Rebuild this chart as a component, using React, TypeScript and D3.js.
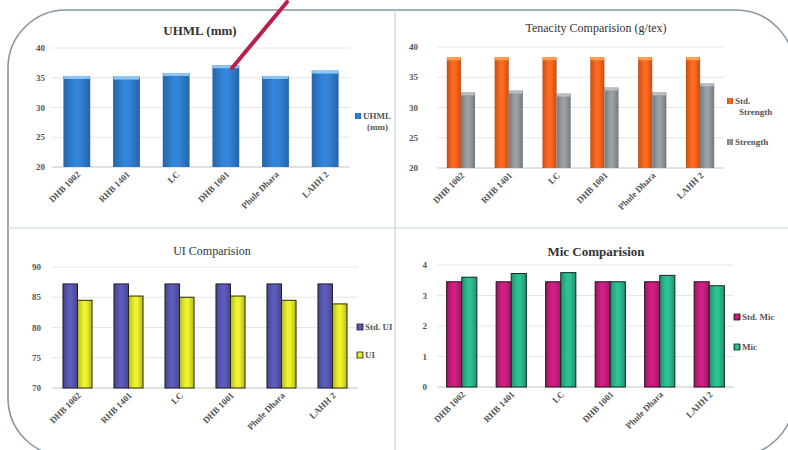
import React from "react";
import * as d3 from "d3";

const categories = ["DHB 1002", "RHB 1401", "LC", "DHB 1001", "Phule Dhara", "LAHH 2"];

const uhmlValues = [35.3, 35.2, 35.8, 37.1, 35.3, 36.2];
const uhmlTicks = [20, 25, 30, 35, 40];

const stdStrengthValues = [38.3, 38.3, 38.3, 38.3, 38.3, 38.3];
const strengthValues = [32.5, 32.8, 32.3, 33.3, 32.5, 34.0];
const tenacityTicks = [20, 25, 30, 35, 40];

const stdUIValues = [87.2, 87.2, 87.2, 87.2, 87.2, 87.2];
const uiValues = [84.5, 85.2, 85.0, 85.2, 84.5, 83.9];
const uiTicks = [70, 75, 80, 85, 90];

const stdMicValues = [3.45, 3.45, 3.45, 3.45, 3.45, 3.45];
const micValues = [3.6, 3.72, 3.75, 3.45, 3.66, 3.32];
const micTicks = [0, 1, 2, 3, 4];

const FONT = "Liberation Serif, Times New Roman, serif";

type Series = { name: string[]; values: number[]; fill: string; cap?: string; stroke?: string };

type PanelProps = {
  id: string;
  title: string;
  titleBold: boolean;
  titleX: number;
  titleY: number;
  titleSize: number;
  x0: number;
  x1: number;
  yTop: number;
  yBottom: number;
  ticks: number[];
  tickX: number;
  padInner: number;
  series: Series[];
  legendX: number;
  legendYs: number[];
};

function Panel(p: PanelProps) {
  const y = d3.scaleLinear().domain([p.ticks[0], p.ticks[p.ticks.length - 1]]).range([p.yBottom, p.yTop]);
  const x = d3
    .scaleBand<string>()
    .domain(categories)
    .range([p.x0, p.x1])
    .paddingInner(p.padInner)
    .paddingOuter(p.padInner / 2);
  const inner = d3
    .scaleBand<number>()
    .domain(p.series.map((_, i) => i))
    .range([0, x.bandwidth()]);
  return (
    <g>
      <text x={p.titleX} y={p.titleY} textAnchor="middle" fontFamily={FONT} fontSize={p.titleSize}
        fontWeight={p.titleBold ? "bold" : "normal"} fill="#333">{p.title}</text>
      {p.ticks.map((t) => (
        <g key={t}>
          <line x1={p.x0} x2={p.x1} y1={y(t)} y2={y(t)} stroke={t === p.ticks[0] ? "#c4c4c4" : "#e6e6e6"} strokeWidth={1} />
          <text x={p.tickX} y={y(t) + 3} textAnchor="end" fontFamily={FONT} fontSize={9} fontWeight="bold" fill="#555">{t}</text>
        </g>
      ))}
      {p.series.map((s, si) =>
        s.values.map((v, ci) => {
          const bx = (x(categories[ci]) as number) + (inner(si) as number);
          const bw = inner.bandwidth();
          const top = y(v);
          const h = y(p.ticks[0]) - top;
          return (
            <g key={`${si}-${ci}`}>
              <rect x={bx} y={top} width={bw} height={h} fill={`url(#${p.id}-g${si})`}
                stroke={s.stroke || "none"} strokeWidth={s.stroke ? 1 : 0} />
              {s.cap && <rect x={bx + 0.5} y={top} width={bw - 1} height={3} fill={s.cap} />}
            </g>
          );
        })
      )}
      {categories.map((c) => {
        const cx = (x(c) as number) + x.bandwidth() / 2 + 4;
        return (
          <text key={c} transform={`translate(${cx},${p.yBottom + 8}) rotate(-45)`} textAnchor="end"
            fontFamily={FONT} fontSize={9} fontWeight="bold" fill="#555">{c}</text>
        );
      })}
      {p.series.map((s, si) => (
        <g key={`leg-${si}`}>
          <rect x={p.legendX} y={p.legendYs[si] - 6} width={6} height={6} fill={`url(#${p.id}-g${si})`}
            stroke={s.stroke || "none"} strokeWidth={s.stroke ? 0.8 : 0} />
          {s.name.map((line, li) => (
            <text key={li} x={p.legendX + 8 + (li > 0 ? 4 : 0)} y={p.legendYs[si] + li * 11} fontFamily={FONT}
              fontSize={9} fontWeight="bold" fill="#555">{line}</text>
          ))}
        </g>
      ))}
      <defs>
        {p.series.map((s, si) => (
          <linearGradient key={si} id={`${p.id}-g${si}`} x1="0" x2="1" y1="0" y2="0">
            <stop offset="0" stopColor={d3.color(s.fill)!.darker(0.6).formatHex()} />
            <stop offset="0.4" stopColor={d3.color(s.fill)!.brighter(0.2).formatHex()} />
            <stop offset="0.6" stopColor={d3.color(s.fill)!.brighter(0.2).formatHex()} />
            <stop offset="1" stopColor={d3.color(s.fill)!.darker(0.6).formatHex()} />
          </linearGradient>
        ))}
      </defs>
    </g>
  );
}

export default function App() {
  return (
    <svg width={788} height={450} style={{ position: "absolute", left: 0, top: 0, background: "#fff" }}>
      <rect x={0} y={0} width={788} height={450} fill="#fff" />
      <rect x={8} y={10} width={786} height={446} rx={58} ry={58} fill="none" stroke="#8596a4" strokeWidth={1.6} />
      <line x1={395} x2={395} y1={10} y2={450} stroke="#c9d3db" strokeWidth={1.2} />
      <line x1={8} x2={788} y1={228} y2={228} stroke="#c9d3db" strokeWidth={1.2} />

      <Panel id="p1" title="UHML (mm)" titleBold titleX={200} titleY={35} titleSize={13}
        x0={52} x1={350} yTop={48} yBottom={167} ticks={uhmlTicks} tickX={45} padInner={0.46}
        series={[{ name: ["UHML", "(mm)"], values: uhmlValues, fill: "#2f7ccc", cap: "#8cc6f2" }]}
        legendX={355} legendYs={[119]} />

      <Panel id="p2" title="Tenacity Comparision (g/tex)" titleBold={false} titleX={596} titleY={32} titleSize={12}
        x0={437} x1={724} yTop={47} yBottom={168} ticks={tenacityTicks} tickX={418} padInner={0.41}
        series={[
          { name: ["Std.", "Strength"], values: stdStrengthValues, fill: "#f0621c", cap: "#ffa24a" },
          { name: ["Strength"], values: strengthValues, fill: "#8e959b", cap: "#b8bec3" },
        ]}
        legendX={727} legendYs={[104, 145]} />

      <Panel id="p3" title="UI Comparision" titleBold={false} titleX={212} titleY={255} titleSize={12}
        x0={52} x1={358} yTop={267} yBottom={388} ticks={uiTicks} tickX={41} padInner={0.43}
        series={[
          { name: ["Std. UI"], values: stdUIValues, fill: "#5656ae", stroke: "#1e1e30" },
          { name: ["UI"], values: uiValues, fill: "#dde32a", stroke: "#2a2a10" },
        ]}
        legendX={357} legendYs={[330, 358]} />

      <Panel id="p4" title="Mic Comparision" titleBold titleX={596} titleY={256} titleSize={13}
        x0={437} x1={734} yTop={265} yBottom={387} ticks={micTicks} tickX={427} padInner={0.39}
        series={[
          { name: ["Std. Mic"], values: stdMicValues, fill: "#c21d7b", stroke: "#2a0a1a" },
          { name: ["Mic"], values: micValues, fill: "#2ab489", stroke: "#0f2a20" },
        ]}
        legendX={734} legendYs={[320, 350]} />

      <line x1={232} y1={68} x2={287} y2={2} stroke="#b8204a" strokeWidth={4} strokeLinecap="round" />
    </svg>
  );
}
